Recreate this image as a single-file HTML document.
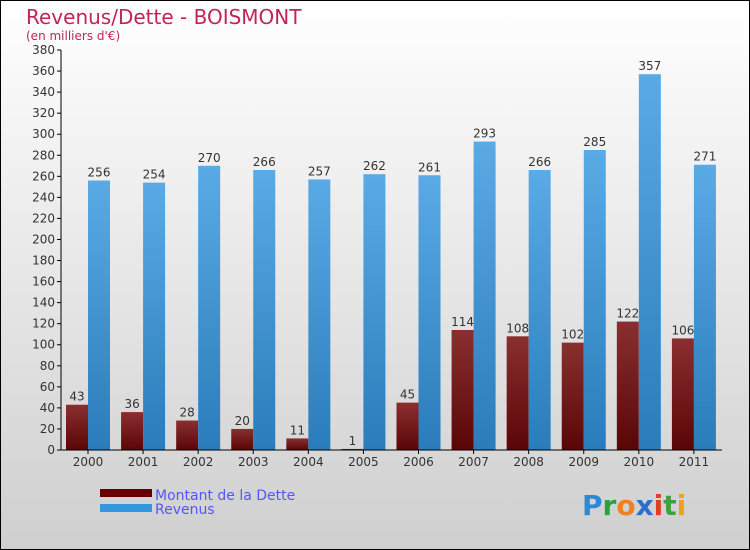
<!DOCTYPE html>
<html><head><meta charset="utf-8"><style>
body{margin:0;width:750px;height:550px;overflow:hidden}
svg{display:block;font-family:"DejaVu Sans","Liberation Sans",sans-serif}
</style></head><body>
<svg id="c" width="750" height="550" xmlns="http://www.w3.org/2000/svg">
<defs>
<linearGradient id="bg" x1="0" y1="0" x2="0" y2="1"><stop offset="0" stop-color="#ffffff"/><stop offset="1" stop-color="#cfcfcf"/></linearGradient>
<linearGradient id="gd" x1="0" y1="0" x2="0" y2="1"><stop offset="0" stop-color="#8a2f30"/><stop offset="1" stop-color="#5a0606"/></linearGradient>
<linearGradient id="gr" x1="0" y1="0" x2="0" y2="1"><stop offset="0" stop-color="#5aaae6"/><stop offset="1" stop-color="#2a7cba"/></linearGradient>
</defs>
<rect x="0.5" y="0.5" width="749" height="549" fill="url(#bg)" stroke="#000"/>
<text x="26" y="24" font-size="20" fill="#c0245a">Revenus/Dette - BOISMONT</text>
<text x="26" y="40" font-size="12" fill="#c0245a">(en milliers d'€)</text>
<g id="plot"></g>
<g>
<rect x="100" y="489" width="52" height="8" fill="#600"/>
<text x="155" y="500" font-size="14" fill="#5555ff">Montant de la Dette</text>
<rect x="100" y="504" width="52" height="8" fill="#3498e0"/>
<text x="155" y="514" font-size="14" fill="#5555ff">Revenus</text>
</g>
<text x="582" y="515" font-size="28" font-weight="bold"><tspan fill="#2a8ad8">P</tspan><tspan fill="#2aa040">r</tspan><tspan fill="#f08020">o</tspan><tspan fill="#2a70d0">x</tspan><tspan fill="#e04020">i</tspan><tspan fill="#40a040">t</tspan><tspan fill="#f0a020">i</tspan></text>
</svg>
<script>
const categories=["2000","2001","2002","2003","2004","2005","2006","2007","2008","2009","2010","2011"];
const dette=[43,36,28,20,11,1,45,114,108,102,122,106];
const revenus=[256,254,270,266,257,262,261,293,266,285,357,271];
const yTicks=[0,20,40,60,80,100,120,140,160,180,200,220,240,260,280,300,320,340,360,380];
const NS="http://www.w3.org/2000/svg";
const X0=61,X1=722,Y0=450,Y1=50,YMAX=380;
const bw=(X1-X0)/categories.length;
const y=v=>Y0-(v/YMAX)*(Y0-Y1);
const g=document.getElementById('plot');
function mk(t,a){const e=document.createElementNS(NS,t);for(const k in a)e.setAttribute(k,a[k]);g.appendChild(e);return e;}
yTicks.forEach(t=>{
 const l=mk('line',{x1:X0-4,x2:X0,y1:y(t),y2:y(t),stroke:'#000'});
 
 
 const tx=mk('text',{x:X0-6,y:y(t)+4,'font-size':12,'text-anchor':'end',fill:'#333'});
 tx.textContent=t;
 
 
});
categories.forEach((c,i)=>{
 const gx=X0+i*bw;
 const b1=mk('rect',{x:gx+5,y:y(dette[i]),width:22,height:Y0-y(dette[i]),fill:'url(#gd)'});
 
 
 const b2=mk('rect',{x:gx+27,y:y(revenus[i]),width:22,height:Y0-y(revenus[i]),fill:'url(#gr)'});
 
 
 const t1=mk('text',{x:gx+16,y:y(dette[i])-4,'font-size':12,'text-anchor':'middle',fill:'#333'});
 t1.textContent=dette[i];
 
 
 const t2=mk('text',{x:gx+38,y:y(revenus[i])-4,'font-size':12,'text-anchor':'middle',fill:'#333'});
 t2.textContent=revenus[i];
 
 
 const tk=mk('line',{x1:gx+27,x2:gx+27,y1:Y0,y2:Y0+4,stroke:'#000'});
 
 
 const xl=mk('text',{x:gx+27,y:Y0+16,'font-size':12,'text-anchor':'middle',fill:'#333'});
 xl.textContent=c;
 
 
});
const ya=mk('line',{x1:X0,x2:X0,y1:Y1,y2:Y0,stroke:'#000'});


const xa=mk('line',{x1:X0,x2:X1,y1:Y0,y2:Y0,stroke:'#000'});


</script>
</body></html>
